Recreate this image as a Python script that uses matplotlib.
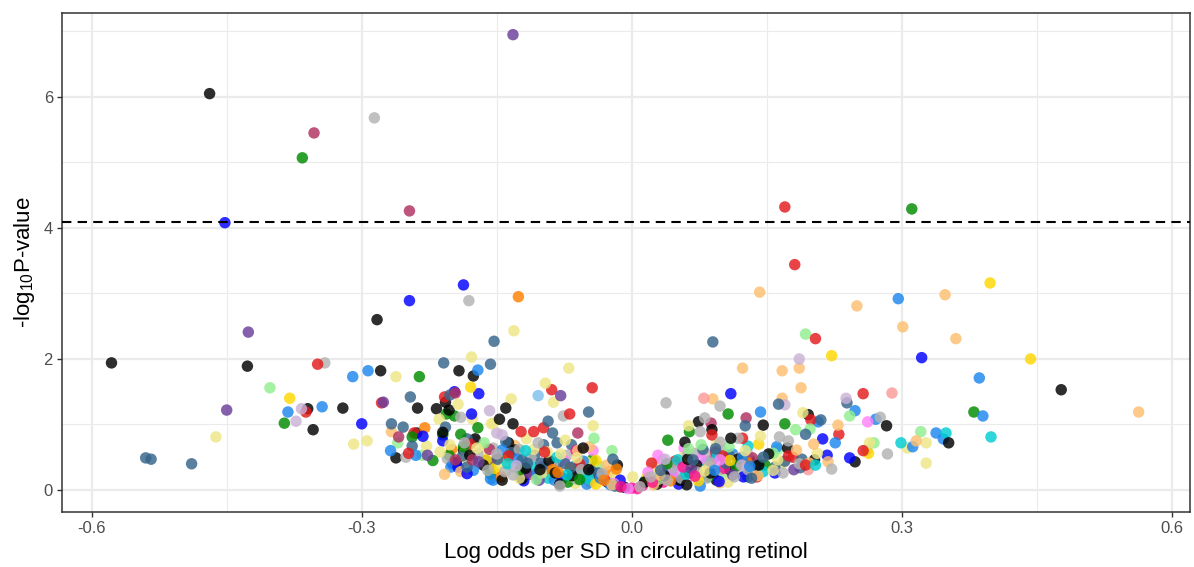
import numpy as np
import matplotlib
matplotlib.use("Agg")
import matplotlib.pyplot as plt

plt.rcParams['font.family'] = ['Liberation Sans', 'DejaVu Sans']
plt.rcParams['mathtext.default'] = 'regular'
plt.rcParams['axes.unicode_minus'] = False

# (log odds per SD, -log10 p) for each trait, grouped by trait category
black = [(-0.469, 6.05), (-0.283, 2.60), (-0.578, 1.94), (-0.427, 1.89), (-0.360, 1.24),
         (-0.354, 0.92), (-0.321, 1.25), (-0.279, 1.82), (-0.238, 1.25), (-0.217, 1.24),
         (-0.207, 1.34), (-0.203, 1.22), (-0.192, 1.82), (-0.176, 1.74), (-0.239, 0.87),
         (-0.262, 0.49), (-0.187, 0.61), (-0.174, 0.78), (-0.147, 1.08), (-0.140, 1.25),
         (-0.132, 1.01), (-0.137, 0.72), (-0.130, 0.61), (-0.144, 0.15), (-0.122, 0.17),
         (-0.054, 0.64), (-0.048, 0.31), (-0.016, 0.38), (0.074, 1.04), (0.089, 0.92),
         (0.059, 0.73), (0.110, 0.79), (0.062, 0.47), (0.131, 0.46), (0.087, 0.26),
         (0.053, 0.15), (0.064, 0.26), (0.094, 0.15), (0.028, 0.09), (0.061, 0.08),
         (0.196, 1.15), (0.283, 0.98), (0.146, 0.99), (0.173, 0.64), (0.203, 0.46),
         (0.141, 0.38), (0.248, 0.43), (0.352, 0.72), (0.477, 1.53), (-0.180, 0.53),
         (-0.102, 0.31), (-0.080, 0.09), (-0.036, 0.20), (0.014, 0.12), (0.109, 0.31),
         (-0.008, 0.04), (-0.195, 0.42), (-0.165, 0.38), (-0.118, 0.33), (-0.092, 0.45),
         (-0.066, 0.22), (-0.027, 0.12), (0.036, 0.22), (0.072, 0.38), (0.118, 0.47),
         (0.152, 0.55), (-0.210, 0.88), (-0.085, 0.26)]
gray = [(-0.286, 5.68), (-0.181, 2.89), (-0.341, 1.94), (-0.251, 0.50), (-0.190, 1.11),
        (-0.186, 0.72), (-0.154, 0.64), (-0.076, 1.13), (-0.104, 0.72), (-0.072, 0.53),
        (-0.132, 0.35), (-0.132, 0.23), (-0.062, 0.17), (0.038, 1.33), (0.098, 1.28),
        (0.081, 1.10), (0.076, 0.89), (0.098, 0.73), (0.118, 0.79), (0.071, 0.56),
        (0.082, 0.56), (0.117, 0.49), (0.073, 0.27), (0.098, 0.31), (0.107, 0.35),
        (0.129, 0.31), (0.039, 0.15), (0.083, 0.18), (0.114, 0.20), (0.009, 0.05),
        (0.164, 0.81), (0.174, 0.75), (0.168, 0.26), (0.222, 0.32), (0.261, 0.61),
        (0.276, 1.11), (0.284, 0.55), (-0.080, 0.06), (-0.160, 0.30), (-0.205, 0.48),
        (-0.171, 0.55), (-0.141, 0.28), (-0.112, 0.50), (-0.088, 0.40), (-0.056, 0.31),
        (-0.033, 0.25), (0.021, 0.20), (0.046, 0.34), (0.062, 0.55), (0.088, 0.41),
        (0.121, 0.28), (0.143, 0.45), (0.186, 0.40), (0.055, 0.18), (0.100, 0.60),
        (-0.125, 0.62), (-0.150, 0.55)]
steelblue = [(-0.540, 0.49), (-0.534, 0.47), (-0.489, 0.40), (-0.246, 1.42), (-0.209, 1.94),
             (-0.157, 1.92), (-0.153, 2.27), (-0.267, 1.01), (-0.254, 0.96), (-0.244, 0.67),
             (-0.202, 1.45), (-0.207, 0.96), (-0.183, 0.78), (-0.183, 0.35), (-0.048, 1.19),
             (-0.093, 1.05), (-0.088, 0.87), (-0.098, 0.69), (-0.083, 0.72), (-0.067, 0.69),
             (-0.149, 0.47), (-0.122, 0.46), (-0.108, 0.53), (-0.101, 0.41), (-0.081, 0.43),
             (-0.068, 0.34), (-0.059, 0.34), (-0.037, 0.26), (-0.021, 0.47), (-0.159, 0.35),
             (0.090, 2.26), (0.126, 0.98), (0.093, 0.63), (0.108, 0.53), (0.018, 0.15),
             (0.129, 0.20), (0.163, 1.31), (0.239, 1.33), (0.210, 1.07), (0.193, 0.85),
             (0.189, 0.47), (0.159, 0.35), (0.146, 0.50), (0.133, 0.18), (0.187, 0.34),
             (-0.019, 0.06), (-0.188, 0.52), (-0.162, 0.45), (-0.134, 0.57), (-0.116, 0.41),
             (-0.095, 0.33), (-0.074, 0.40), (-0.044, 0.28), (0.032, 0.30), (0.068, 0.46),
             (0.104, 0.41), (0.138, 0.37), (0.170, 0.44), (-0.140, 0.74), (0.079, 0.62)]
dodgerblue = [(0.296, 2.92), (0.386, 1.71), (0.390, 1.13), (0.338, 0.87), (0.346, 0.78),
              (0.312, 0.66), (-0.310, 1.73), (-0.293, 1.82), (-0.171, 1.83), (-0.382, 1.19),
              (-0.344, 1.27), (-0.268, 0.60), (-0.240, 0.53), (-0.157, 0.17), (-0.144, 0.61),
              (-0.154, 0.15), (-0.086, 0.15), (-0.054, 0.44), (-0.050, 0.09), (0.076, 0.06),
              (0.123, 0.50), (0.143, 1.19), (0.248, 1.21), (0.271, 1.08), (0.207, 1.04),
              (0.226, 0.72), (0.161, 0.66), (-0.024, 0.08), (-0.201, 0.35), (-0.176, 0.30),
              (-0.127, 0.47), (-0.105, 0.25), (-0.064, 0.36), (-0.035, 0.18), (0.044, 0.28),
              (0.092, 0.30), (0.131, 0.36), (0.112, 0.55)]
blue = [(-0.452, 4.08), (-0.187, 3.13), (-0.247, 2.89), (-0.170, 1.47), (-0.197, 1.50),
        (-0.178, 1.16), (-0.300, 1.01), (-0.232, 0.82), (-0.210, 0.75), (-0.199, 0.40),
        (-0.193, 0.35), (0.110, 1.47), (0.322, 2.02), (0.212, 0.78), (0.217, 0.53),
        (0.242, 0.49), (0.159, 0.26), (-0.013, 0.15), (-0.183, 0.25), (-0.120, 0.14),
        (-0.077, 0.18), (0.052, 0.09), (0.097, 0.13), (0.124, 0.20)]
red = [(0.170, 4.32), (0.181, 3.44), (0.204, 2.31), (-0.349, 1.92), (-0.362, 1.19),
       (-0.278, 1.33), (-0.208, 1.42), (-0.242, 0.87), (-0.248, 0.56), (-0.150, 0.47),
       (-0.089, 1.53), (-0.044, 1.56), (-0.069, 1.16), (-0.098, 0.95), (-0.109, 0.89),
       (-0.123, 0.89), (0.179, 0.50), (0.193, 0.38), (0.022, 0.41), (0.089, 0.84),
       (0.123, 0.79), (0.139, 0.20), (0.257, 1.47), (0.199, 1.07), (0.230, 0.85),
       (0.257, 0.60), (-0.180, 0.70), (-0.137, 0.52), (-0.097, 0.58), (-0.058, 0.40),
       (0.048, 0.44), (0.101, 0.52), (0.134, 0.30), (0.174, 0.52)]
green = [(-0.366, 5.07), (0.311, 4.29), (-0.236, 1.73), (-0.386, 1.02), (-0.206, 1.16),
         (-0.197, 1.13), (-0.171, 0.95), (-0.210, 0.84), (-0.190, 0.85), (-0.244, 0.81),
         (-0.203, 0.53), (0.107, 1.16), (0.064, 0.89), (0.040, 0.76), (0.170, 1.01),
         (0.148, 0.38), (0.380, 1.19), (-0.013, 0.05), (-0.052, 0.18), (-0.044, 0.46),
         (-0.221, 0.45), (-0.187, 0.66), (-0.157, 0.25), (-0.124, 0.31), (-0.071, 0.12),
         (0.039, 0.40), (0.085, 0.20), (0.116, 0.37), (-0.058, 0.16)]
purple = [(-0.132, 6.95), (-0.426, 2.41), (-0.450, 1.22), (-0.227, 0.53), (-0.079, 1.44),
          (-0.117, 0.26), (-0.103, 0.15), (0.180, 0.31), (-0.276, 1.34), (-0.170, 0.43),
          (-0.099, 0.35), (-0.063, 0.27), (0.066, 0.33), (0.112, 0.23)]
orange = [(-0.126, 2.95), (-0.230, 0.95), (-0.088, 0.31), (-0.082, 0.27), (-0.031, 0.15),
          (-0.017, 0.32), (0.071, 0.24), (-0.200, 0.62), (-0.145, 0.20), (-0.068, 0.33),
          (-0.025, 0.28), (0.043, 0.14), (0.128, 0.42)]
gold = [(0.398, 3.16), (0.443, 2.00), (0.222, 2.05), (-0.380, 1.40), (-0.179, 1.57),
        (-0.162, 0.46), (-0.139, 0.49), (-0.040, 0.09), (0.067, 0.34), (0.141, 0.70),
        (0.263, 0.56), (-0.152, 0.33), (-0.089, 0.22), (-0.040, 0.45), (0.017, 0.19),
        (0.074, 0.14), (0.109, 0.45)]
skyblue = [(-0.104, 1.44)]
pink = [(0.080, 1.40), (0.289, 1.48), (0.196, 0.31), (-0.046, 0.12), (0.054, 0.40)]
palegreen = [(-0.402, 1.56), (0.193, 2.38), (-0.260, 0.72), (-0.233, 0.53), (-0.042, 0.79),
             (-0.022, 0.60), (0.077, 0.69), (0.103, 0.23), (0.182, 0.92), (0.198, 0.93),
             (0.242, 1.13), (0.269, 0.72), (0.321, 0.89), (0.157, 0.56), (-0.164, 0.72),
             (-0.106, 0.16), (-0.036, 0.36), (0.029, 0.16), (0.063, 0.63), (0.108, 0.66),
             (0.162, 0.62)]
thistle = [(0.186, 2.00), (-0.373, 1.05), (-0.367, 1.24), (-0.158, 1.21), (-0.150, 0.87),
           (-0.144, 0.84), (0.122, 0.38), (0.170, 1.30), (0.238, 1.40), (-0.174, 0.76),
           (-0.128, 0.37), (0.037, 0.47), (0.129, 0.55)]
lightorange = [(0.142, 3.02), (0.348, 2.98), (0.250, 2.81), (0.301, 2.49), (0.360, 2.31),
               (0.123, 1.86), (0.167, 1.82), (0.186, 1.86), (0.188, 1.56), (0.167, 1.40),
               (0.090, 1.39), (0.563, 1.19), (0.316, 0.75), (0.229, 0.99), (0.202, 0.70),
               (0.218, 0.43), (0.183, 0.61), (0.197, 0.41), (0.031, 0.23), (0.098, 0.11),
               (-0.267, 0.89), (-0.208, 0.24), (-0.047, 0.66), (-0.028, 0.38), (-0.022, 0.08),
               (-0.190, 0.28), (-0.130, 0.68), (-0.060, 0.60), (0.024, 0.08), (0.086, 0.36),
               (0.140, 0.22)]
khaki = [(-0.462, 0.81), (-0.309, 0.70), (-0.294, 0.75), (-0.262, 1.73), (-0.178, 2.03),
         (-0.131, 2.43), (-0.070, 1.86), (-0.096, 1.63), (-0.087, 1.34), (-0.134, 1.39),
         (-0.154, 1.02), (-0.193, 1.31), (-0.214, 1.08), (-0.177, 1.08), (-0.156, 1.01),
         (-0.228, 0.67), (-0.202, 0.69), (-0.172, 0.64), (-0.164, 0.64), (-0.183, 0.47),
         (-0.117, 0.78), (-0.094, 0.58), (-0.074, 0.76), (-0.061, 0.49), (-0.043, 0.98),
         (-0.152, 0.31), (-0.100, 0.26), (0.063, 0.98), (0.001, 0.20), (0.107, 0.12),
         (0.143, 0.82), (0.190, 1.18), (0.162, 0.46), (0.168, 0.41), (0.133, 0.34),
         (0.206, 0.56), (0.264, 0.72), (0.327, 0.72), (0.306, 0.64), (0.327, 0.41),
         (-0.063, 0.10), (-0.213, 0.58), (-0.185, 0.60), (-0.145, 0.40), (-0.109, 0.62),
         (-0.079, 0.55), (-0.051, 0.43), (-0.019, 0.22), (0.026, 0.36), (0.057, 0.50),
         (0.081, 0.29), (0.126, 0.60), (0.157, 0.30), (-0.125, 0.18), (0.094, 0.70)]
maroon = [(-0.353, 5.45), (-0.247, 4.26), (-0.259, 0.81), (-0.196, 1.48), (-0.196, 0.46),
          (-0.177, 0.46), (-0.060, 0.87), (0.088, 1.02), (0.127, 1.10), (0.134, 0.49),
          (-0.158, 0.62), (-0.113, 0.24), (-0.047, 0.35), (0.040, 0.31), (0.093, 0.58)]
orchid = [(-0.043, 0.60), (0.058, 0.64), (0.029, 0.53), (0.034, 0.46), (0.098, 0.46),
          (0.051, 0.31), (0.262, 1.04), (-0.004, 0.02), (-0.020, 0.10), (0.018, 0.27),
          (0.045, 0.25), (0.077, 0.48), (-0.075, 0.45)]
deeppink = [(-0.062, 0.60), (0.000, 0.03), (0.090, 0.47), (0.057, 0.35), (0.023, 0.12),
            (0.006, 0.02), (-0.030, 0.15), (0.012, 0.07), (0.035, 0.12), (0.070, 0.21),
            (-0.012, 0.05), (0.103, 0.33)]
turquoise = [(-0.118, 0.60), (-0.112, 0.38), (-0.093, 0.18), (-0.072, 0.23), (0.129, 0.67),
             (0.051, 0.46), (0.083, 0.43), (0.204, 0.38), (0.299, 0.72), (0.349, 0.87),
             (0.399, 0.81), (-0.048, 0.17), (-0.138, 0.40), (-0.083, 0.50), (-0.055, 0.22),
             (0.015, 0.14), (0.060, 0.24), (0.095, 0.52), (0.146, 0.28)]

threshold = 4.09

groups = [
    (dodgerblue, '#1C86EE'), (red, '#E31A1C'), (green, '#008B00'), (purple, '#6A3D9A'),
    (orange, '#FF7F00'), (black, '#000000'), (gold, '#FFD700'), (skyblue, '#7EC0EE'),
    (pink, '#FB9A99'), (palegreen, '#90EE90'), (thistle, '#CAB2D6'), (lightorange, '#FDBF6F'),
    (gray, '#B3B3B3'), (khaki, '#EEE685'), (maroon, '#B03060'), (orchid, '#FF83FA'),
    (deeppink, '#FF1493'), (blue, '#0000FF'), (steelblue, '#36648B'), (turquoise, '#00CED1'),
]

xs, ys, cols = [], [], []
for pts, c in groups:
    for x, y in pts:
        xs.append(x)
        ys.append(y)
        cols.append(c)
xs = np.array(xs)
ys = np.array(ys)
cols = np.array(cols)
# mix the colours in the drawing order so no category sits on top
order = np.argsort((np.round(np.abs(xs) * 1000) * 37 + np.round(ys * 100) * 11) % 101)

fig = plt.figure(figsize=(11.94, 5.67), dpi=100)
ax = fig.add_axes([0.0519, 0.097, 0.9447, 0.880])

ax.scatter(xs[order], ys[order], s=68, c=cols[order], alpha=0.82, linewidths=0, zorder=3)
ax.axhline(threshold, color='black', lw=1.5, ls=(0, (4.5, 3)), zorder=4)

ax.set_xlim(-0.633, 0.620)
ax.set_ylim(-0.336, 7.28)
ax.set_xticks([-0.6, -0.3, 0.0, 0.3, 0.6])
ax.set_xticklabels(['-0.6', '-0.3', '0.0', '0.3', '0.6'])
ax.set_yticks([0, 2, 4, 6])
ax.set_xticks([-0.45, -0.15, 0.15, 0.45], minor=True)
ax.set_yticks([1, 3, 5, 7], minor=True)
ax.grid(which='major', color='#EBEBEB', lw=1.6, zorder=0)
ax.grid(which='minor', color='#EBEBEB', lw=0.8, zorder=0)
ax.set_axisbelow(True)
ax.tick_params(which='major', length=3.5, width=1, color='#333333',
               labelsize=12, labelcolor='#4D4D4D', pad=3)
ax.tick_params(which='minor', length=0)
for sp in ax.spines.values():
    sp.set_color('#333333')
    sp.set_linewidth(1.1)

ax.set_xlabel('Log odds per SD in circulating retinol', fontsize=16, labelpad=4)
ax.set_ylabel('-log$_{10}$P-value', fontsize=16, labelpad=5)

fig.savefig('out.png', dpi=100)
